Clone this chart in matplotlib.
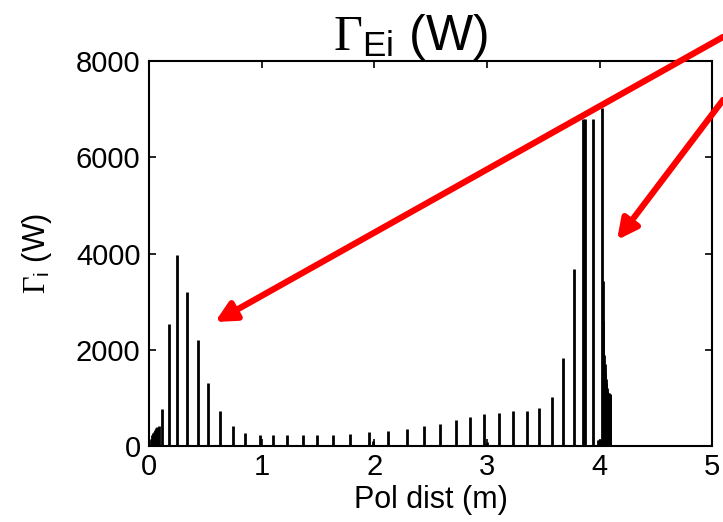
import matplotlib
matplotlib.use('Agg')
import matplotlib.pyplot as plt
import numpy as np

plt.rcParams['font.family'] = ['Liberation Sans', 'DejaVu Sans']
plt.rcParams['mathtext.fontset'] = 'custom'
plt.rcParams['mathtext.rm'] = 'Liberation Serif'
plt.rcParams['mathtext.sf'] = 'Liberation Sans'
plt.rcParams['mathtext.it'] = 'Liberation Serif:italic'

# dense deposition near the inner strike point
left_x = [0.005, 0.015, 0.025, 0.035, 0.045, 0.055, 0.065, 0.075, 0.085]
left_y = [50, 150, 220, 260, 300, 340, 370, 400, 420]

# individual cells along the poloidal distance
cell_x = [0.113, 0.178, 0.249, 0.335, 0.433, 0.527, 0.631, 0.744, 0.856, 0.986,
          1.104, 1.229, 1.371, 1.495, 1.637, 1.785, 1.951, 1.99, 2.126, 2.294,
          2.446, 2.584, 2.723, 2.851, 2.978, 3.0, 3.108, 3.235, 3.354, 3.463,
          3.576, 3.679, 3.777, 3.855, 3.868, 3.946, 4.022]
cell_y = [760, 2525, 3970, 3200, 2200, 1310, 720, 425, 270, 225,
          225, 225, 225, 225, 230, 253, 287, 100, 308, 357,
          412, 461, 530, 600, 655, 80, 690, 717, 717, 786,
          1023, 1819, 3684, 6800, 6800, 6800, 7020]

# dense deposition near the outer strike point
right_x = [3.985, 3.995, 4.005, 4.015, 4.03, 4.035, 4.04, 4.045, 4.05, 4.055,
           4.06, 4.065, 4.07, 4.075, 4.08, 4.085, 4.09, 4.095]
right_y = [130, 130, 130, 130, 3430, 2600, 1900, 1700, 1520, 1400,
           1300, 1200, 1150, 1110, 1100, 1090, 1080, 1070]

x = np.array(left_x + cell_x + right_x)
y = np.array(left_y + cell_y + right_y)

fig = plt.figure(figsize=(7.23, 5.22), dpi=100)
ax = fig.add_axes([0.206, 0.1456, 0.779, 0.7375])

ax.vlines(x, 0, y, color='black', lw=2.0)

ax.set_xlim(0, 5)
ax.set_ylim(0, 8000)
ax.set_xticks([0, 1, 2, 3, 4, 5])
ax.set_yticks([0, 2000, 4000, 6000, 8000])
ax.tick_params(direction='in', top=True, right=True, length=5, width=1.2,
               labelsize=21)
ax.tick_params(axis='x', pad=5)
ax.tick_params(axis='y', pad=6)
for s in ax.spines.values():
    s.set_linewidth(1.5)

ax.set_xlabel('Pol dist (m)', fontsize=22, labelpad=3)
ax.set_ylabel(r'$\Gamma_{\mathsf{i}}$ (W)', fontsize=22, labelpad=16)
ax.text(0.4636, 1.028, r'$\Gamma_{\mathsf{Ei}}$ (W)', transform=ax.transAxes,
        ha='center', va='baseline', fontsize=36)

# red arrows pointing at the two strike points
ax.annotate('', xy=(215 / 723, 1 - 322 / 522), xycoords='figure fraction',
            xytext=(1.0, 1 - 37 / 522), textcoords='figure fraction',
            arrowprops=dict(arrowstyle='-|>', color='red', lw=4.5,
                            mutation_scale=30, shrinkA=0, shrinkB=0),
            annotation_clip=False)
ax.annotate('', xy=(617 / 723, 1 - 240 / 522), xycoords='figure fraction',
            xytext=(1.0, 1 - 100 / 522), textcoords='figure fraction',
            arrowprops=dict(arrowstyle='-|>', color='red', lw=4.5,
                            mutation_scale=30, shrinkA=0, shrinkB=0),
            annotation_clip=False)

fig.savefig('out.png', dpi=100)
